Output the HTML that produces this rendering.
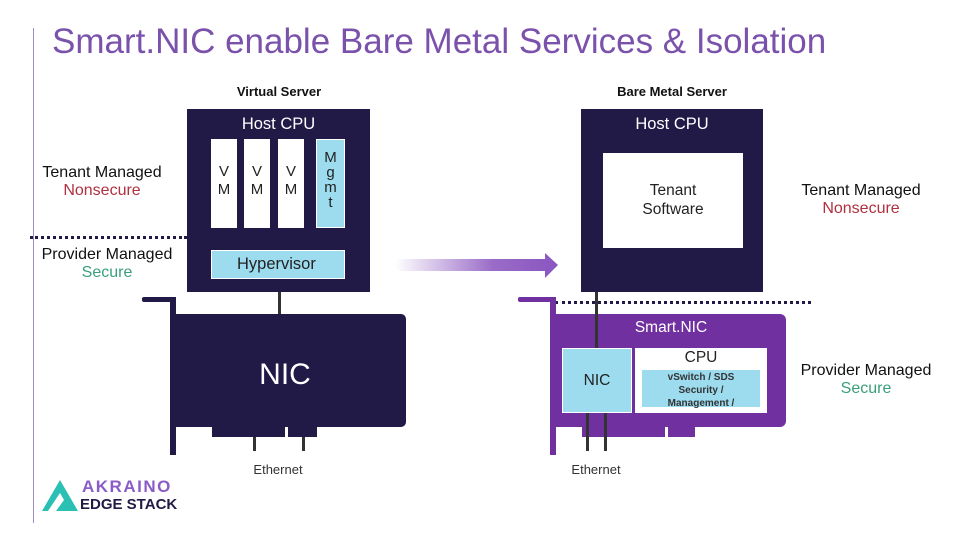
<!DOCTYPE html>
<html><head><style>
*{margin:0;padding:0}
body{width:960px;height:540px;position:relative;background:#fff;font-family:"Liberation Sans",sans-serif;overflow:hidden}
.a{position:absolute}
.c{text-align:center}
.dk{background:#211a46}
.pu{background:#7030a0}
.w{background:#fff}
.lb{background:#9ddcef}
</style></head><body>
<div class="a" style="left:33px;top:28px;width:1px;height:495px;background:#a08cc0"></div>
<div class="a" style="left:52px;top:22px;font-size:35px;color:#7b52ab;white-space:nowrap">Smart.NIC enable Bare Metal Services &amp; Isolation</div>

<div class="a c" style="left:190px;top:84px;width:178px;font-size:13px;font-weight:bold;color:#111">Virtual Server</div>
<div class="a c" style="left:582px;top:84px;width:180px;font-size:13px;font-weight:bold;color:#111">Bare Metal Server</div>

<div class="a c" style="left:16px;top:164px;width:172px;font-size:16px;color:#111;line-height:18px">Tenant Managed<br><span style="color:#b03040">Nonsecure</span></div>
<div class="a c" style="left:16px;top:246px;width:182px;font-size:16px;color:#111;line-height:18px">Provider Managed<br><span style="color:#3aa07a">Secure</span></div>
<div class="a" style="left:30px;top:236px;width:157px;border-top:3px dotted #211a46"></div>

<!-- left host -->
<div class="a dk" style="left:187px;top:109px;width:183px;height:183px"></div>
<div class="a c" style="left:187px;top:115px;width:183px;font-size:16.5px;color:#fff">Host CPU</div>
<div class="a w c" style="left:211px;top:139px;width:26px;height:89px;font-size:15px;color:#222;line-height:18px;padding-top:24px;box-sizing:border-box">V<br>M</div>
<div class="a w c" style="left:244px;top:139px;width:26px;height:89px;font-size:15px;color:#222;line-height:18px;padding-top:24px;box-sizing:border-box">V<br>M</div>
<div class="a w c" style="left:278px;top:139px;width:26px;height:89px;font-size:15px;color:#222;line-height:18px;padding-top:24px;box-sizing:border-box">V<br>M</div>
<div class="a lb c" style="left:316px;top:139px;width:29px;height:89px;border:1px solid #fff;box-sizing:border-box;font-size:15px;color:#222;line-height:15px;padding-top:10px">M<br>g<br>m<br>t</div>
<div class="a lb" style="left:211px;top:250px;width:134px;height:29px;border:1px solid #fff;box-sizing:border-box;font-size:16.5px;color:#222;line-height:27px;padding-left:25px">Hypervisor</div>
<div class="a" style="left:278px;top:292px;width:3px;height:23px;background:#333"></div>

<!-- left NIC -->
<div class="a dk" style="left:142px;top:297px;width:34px;height:5px;border-radius:2px"></div>
<div class="a dk" style="left:170px;top:297px;width:6px;height:158px"></div>
<div class="a dk" style="left:175px;top:314px;width:231px;height:113px;border-radius:0 5px 5px 0"></div>
<div class="a dk" style="left:212px;top:426px;width:73px;height:11px"></div>
<div class="a dk" style="left:288px;top:426px;width:29px;height:11px"></div>
<div class="a" style="left:253px;top:437px;width:3px;height:14px;background:#333"></div>
<div class="a" style="left:302px;top:437px;width:3px;height:14px;background:#333"></div>
<div class="a c" style="left:175px;top:358px;width:220px;font-size:30px;color:#fff">NIC</div>
<div class="a c" style="left:218px;top:462px;width:120px;font-size:13px;color:#333">Ethernet</div>

<!-- arrow -->
<svg class="a" style="left:390px;top:250px" width="175" height="32">
<defs><linearGradient id="g" x1="0" x2="1"><stop offset="0" stop-color="#fff"/><stop offset="0.6" stop-color="#9a6cc8"/><stop offset="1" stop-color="#8a55c0"/></linearGradient></defs>
<path d="M5 9 H155 V3 L168 15 L155 28 V21 H5 Z" fill="url(#g)"/>
</svg>

<!-- right host -->
<div class="a dk" style="left:581px;top:109px;width:182px;height:183px"></div>
<div class="a c" style="left:581px;top:115px;width:182px;font-size:16.5px;color:#fff">Host CPU</div>
<div class="a w c" style="left:603px;top:153px;width:140px;height:95px;font-size:15.5px;color:#222;line-height:19px;padding-top:28px;box-sizing:border-box">Tenant<br>Software</div>
<div class="a" style="left:555px;top:301px;width:256px;border-top:3px dotted #211a46"></div>

<div class="a c" style="left:775px;top:182px;width:172px;font-size:16px;color:#111;line-height:18px">Tenant Managed<br><span style="color:#b03040">Nonsecure</span></div>
<div class="a c" style="left:775px;top:362px;width:182px;font-size:16px;color:#111;line-height:18px">Provider Managed<br><span style="color:#3aa07a">Secure</span></div>

<!-- smartNIC -->
<div class="a pu" style="left:518px;top:297px;width:38px;height:5px;border-radius:2px"></div>
<div class="a pu" style="left:550px;top:297px;width:6px;height:158px"></div>
<div class="a pu" style="left:555px;top:314px;width:231px;height:113px;border-radius:0 6px 6px 0"></div>
<div class="a pu" style="left:582px;top:426px;width:83px;height:11px"></div>
<div class="a pu" style="left:668px;top:426px;width:27px;height:11px"></div>
<div class="a c" style="left:556px;top:319px;width:230px;font-size:15.5px;color:#fff">Smart.NIC</div>
<div class="a lb c" style="left:562px;top:348px;width:70px;height:65px;border:1px solid #fff;box-sizing:border-box;font-size:15.5px;color:#222;line-height:63px">NIC</div>
<div class="a w" style="left:635px;top:348px;width:132px;height:65px"></div>
<div class="a c" style="left:635px;top:349px;width:132px;font-size:15.5px;color:#222">CPU</div>
<div class="a lb c" style="left:642px;top:370px;width:118px;height:37px;font-size:10px;font-weight:bold;color:#333;line-height:13px;padding-top:1px;box-sizing:border-box">vSwitch / SDS<br>Security /<br>Management /</div>
<div class="a" style="left:595px;top:292px;width:3px;height:56px;background:#333"></div>
<div class="a" style="left:586px;top:413px;width:3px;height:38px;background:#333"></div>
<div class="a" style="left:604px;top:413px;width:3px;height:38px;background:#333"></div>
<div class="a c" style="left:536px;top:462px;width:120px;font-size:13px;color:#333">Ethernet</div>

<!-- logo -->
<svg class="a" style="left:40px;top:478px" width="40" height="36">
<path d="M20 2 L38 33 H16 L24 22 L20 15 L8 33 H2 Z" fill="#2bc0b4"/>
</svg>
<div class="a" style="left:82px;top:478px;font-size:17px;font-weight:bold;color:#8a5cc8;letter-spacing:1.5px;line-height:17px">AKRAINO</div>
<div class="a" style="left:80px;top:496px;font-size:15px;font-weight:bold;color:#211a46;letter-spacing:0px;line-height:17px">EDGE STACK</div>
</body></html>
